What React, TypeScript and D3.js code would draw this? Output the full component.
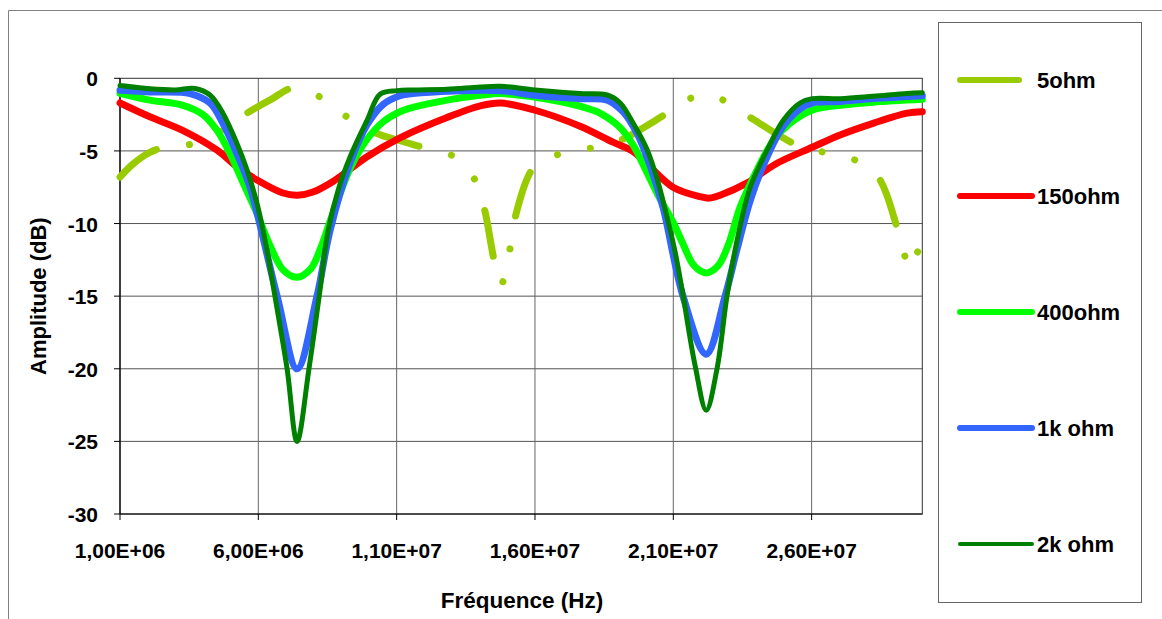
import React from 'react';
import * as d3 from 'd3';

// ---- axis data ----
const X_TICKS = [1e6, 6e6, 11e6, 16e6, 21e6, 26e6];
const X_TICK_LABELS = ['1,00E+06', '6,00E+06', '1,10E+07', '1,60E+07', '2,10E+07', '2,60E+07'];
const Y_TICKS = [0, -5, -10, -15, -20, -25, -30];

// ---- series data (frequency in MHz, amplitude in dB) ----
const F_5OHM = [1.0, 1.47, 2.08, 2.63, 3.64, 4.69, 5.59, 6.42, 7.3, 8.34, 9.24, 10.29, 11.12, 12.03, 13.08, 13.8, 14.16, 14.52, 14.77, 14.88, 15.1, 15.28, 15.97, 16.91, 18.03, 19.04, 20.78, 21.72, 22.2, 22.8, 23.7, 25.48, 26.45, 27.54, 28.4, 29.09, 29.38, 29.6, 29.85, 30.0];
const DB_5OHM = [-6.8, -5.9, -5.1, -4.75, -4.5, -3.6, -2.4, -1.5, -0.65, -1.4, -2.7, -3.8, -4.3, -4.8, -5.4, -6.9, -8.9, -12.5, -14.2, -13.8, -11.7, -9.6, -6.1, -5.2, -4.8, -4.3, -2.4, -1.3, -1.15, -1.5, -2.6, -4.6, -5.1, -5.6, -6.8, -10.3, -12.3, -13.15, -11.9, -11.7];

const F_150OHM = [1.0, 2.08, 3.28, 4.51, 5.23, 5.95, 6.89, 7.42, 7.95, 8.7, 9.93, 11.12, 12.82, 14.02, 14.74, 16.0, 17.63, 18.82, 19.51, 20.05, 20.99, 21.97, 22.3, 22.69, 23.67, 24.7, 26.02, 27.03, 28.22, 29.45, 30.0];
const DB_150OHM = [-1.7, -2.65, -3.6, -4.95, -6.1, -7.0, -7.9, -8.05, -7.85, -7.1, -5.4, -4.1, -2.7, -1.9, -1.7, -2.2, -3.3, -4.4, -5.0, -5.9, -7.5, -8.15, -8.25, -8.05, -7.2, -5.9, -4.75, -3.9, -3.1, -2.4, -2.3];

const F_400OHM = [1.0, 2.08, 3.28, 4.0, 4.51, 4.98, 5.45, 5.95, 6.42, 6.9, 7.4, 7.9, 8.23, 8.6, 9.0, 9.32, 9.93, 10.51, 11.12, 11.59, 12.82, 14.02, 14.74, 16.0, 17.16, 18.1, 18.35, 19.08, 19.55, 20.05, 20.52, 20.99, 21.35, 21.75, 22.19, 22.62, 23.0, 23.41, 24.03, 24.61, 25.22, 26.02, 27.03, 28.22, 30.0];
const DB_400OHM = [-1.03, -1.5, -1.86, -2.5, -3.6, -5.2, -7.2, -9.3, -11.5, -13.2, -13.7, -13.1, -11.8, -9.8, -7.7, -6.2, -4.2, -3.0, -2.3, -2.0, -1.5, -1.17, -1.05, -1.3, -1.7, -2.2, -2.4, -3.4, -4.6, -6.5, -8.3, -9.9, -11.4, -12.9, -13.4, -12.9, -11.4, -8.9, -6.3, -4.3, -3.1, -2.2, -1.86, -1.65, -1.45];

const F_1KOHM = [1.0, 2.08, 3.53, 4.25, 4.72, 5.23, 5.7, 6.68, 7.4, 8.12, 8.59, 9.32, 9.93, 10.51, 11.12, 11.59, 14.74, 16.0, 17.63, 18.61, 19.18, 19.69, 20.16, 20.63, 21.35, 22.19, 22.87, 23.3, 23.8, 24.39, 24.97, 25.58, 26.02, 27.03, 28.22, 30.0];
const DB_1KOHM = [-0.83, -0.94, -1.05, -1.7, -3.1, -5.2, -7.5, -15, -20, -15, -10.5, -5.8, -3.2, -1.8, -1.2, -1.05, -0.85, -1.17, -1.4, -1.5, -2.3, -3.8, -6.0, -8.9, -15, -19.0, -15, -11.8, -8.3, -5.4, -3.3, -2.1, -1.7, -1.6, -1.4, -1.2];

const F_2KOHM = [1.0, 2.08, 3.0, 3.71, 4.25, 4.72, 5.23, 5.59, 5.95, 6.31, 6.6, 7.04, 7.4, 7.83, 8.2, 8.52, 8.9, 9.32, 9.93, 10.4, 11.01, 11.59, 12.82, 14.02, 14.74, 16.0, 17.63, 18.61, 19.08, 19.55, 20.05, 20.41, 20.78, 21.07, 21.33, 21.79, 22.19, 22.58, 22.94, 23.3, 23.78, 24.39, 24.97, 25.58, 26.02, 27.03, 28.22, 29.45, 30.0];
const DB_2KOHM = [-0.5, -0.72, -0.8, -0.7, -1.15, -2.4, -4.5, -6.3, -8.6, -11.8, -15, -20, -25, -20, -15, -10.5, -7.6, -5.4, -2.9, -1.1, -0.85, -0.8, -0.75, -0.6, -0.55, -0.8, -1.05, -1.15, -1.7, -3.1, -4.9, -6.9, -9.6, -12.0, -14.7, -19.8, -22.85, -20, -15, -11.2, -7.5, -4.95, -2.9, -1.7, -1.4, -1.4, -1.24, -1.05, -1.0];

const SERIES_NAMES = ['5ohm', '150ohm', '400ohm', '1k ohm', '2k ohm'];
const SERIES_COLORS = ['#99CC00', '#FF0000', '#00FF00', '#3366FF', '#008000'];

const FONT = '"Liberation Sans", Arial, Helvetica, sans-serif';

export default function App() {
  const W = 1162;
  const H = 619;
  const plot = { left: 120, right: 922.3, top: 78.3, bottom: 514 };

  const x = d3.scaleLinear().domain([1e6, 3e7]).range([plot.left, plot.right]);
  const y = d3.scaleLinear().domain([0, -30]).range([plot.top, plot.bottom]);

  const series = [
    { name: SERIES_NAMES[0], color: SERIES_COLORS[0], f: F_5OHM, v: DB_5OHM, width: 7, dash: '46 33.5 0.01 33.5 0.01 33.5' },
    { name: SERIES_NAMES[1], color: SERIES_COLORS[1], f: F_150OHM, v: DB_150OHM, width: 7, dash: null },
    { name: SERIES_NAMES[2], color: SERIES_COLORS[2], f: F_400OHM, v: DB_400OHM, width: 7, dash: null },
    { name: SERIES_NAMES[3], color: SERIES_COLORS[3], f: F_1KOHM, v: DB_1KOHM, width: 7, dash: null },
    { name: SERIES_NAMES[4], color: SERIES_COLORS[4], f: F_2KOHM, v: DB_2KOHM, width: 5, dash: null },
  ];

  const line = d3
    .line<[number, number]>()
    .x((d) => x(d[0] * 1e6))
    .y((d) => y(d[1]))
    .curve(d3.curveCatmullRom.alpha(0.5));

  const legendY = (i: number) => 80 + i * 116;

  return (
    <svg
      width={W}
      height={H}
      style={{ position: 'absolute', left: 0, top: 0, background: '#fff' }}
      fontFamily={FONT}
      fontWeight="bold"
    >
      <rect x={0} y={0} width={W} height={H} fill="#fff" />
      {/* outer chart frame */}
      <path d={`M8.5,${H + 2} V10.5 H${W + 2}`} fill="none" stroke="#808080" strokeWidth={1} />

      {/* gridlines */}
      {Y_TICKS.slice(1, -1).map((t) => (
        <line key={'gy' + t} x1={plot.left} x2={plot.right} y1={y(t)} y2={y(t)} stroke="#555" strokeWidth={1} />
      ))}
      {X_TICKS.slice(1).map((t) => (
        <line key={'gx' + t} x1={x(t)} x2={x(t)} y1={plot.top} y2={plot.bottom} stroke="#666" strokeWidth={1} />
      ))}

      {/* plot border */}
      <rect
        x={plot.left}
        y={plot.top}
        width={plot.right - plot.left}
        height={plot.bottom - plot.top}
        fill="none"
        stroke="#333"
        strokeWidth={1}
      />
      <line x1={plot.left} x2={plot.left} y1={plot.top} y2={plot.bottom} stroke="#000" strokeWidth={1.2} />
      <line x1={plot.left} x2={plot.right} y1={plot.bottom} y2={plot.bottom} stroke="#000" strokeWidth={1.2} />

      {/* y ticks + labels */}
      {Y_TICKS.map((t) => (
        <g key={'yt' + t}>
          <line x1={plot.left - 6} x2={plot.left} y1={y(t)} y2={y(t)} stroke="#000" strokeWidth={1} />
          <text x={98} y={y(t) + 8} textAnchor="end" fontSize={21} fill="#000">
            {t}
          </text>
        </g>
      ))}

      {/* x ticks + labels */}
      {X_TICKS.map((t, i) => (
        <g key={'xt' + t}>
          <line x1={x(t)} x2={x(t)} y1={plot.bottom} y2={plot.bottom + 6} stroke="#000" strokeWidth={1} />
          <text x={x(t)} y={558} textAnchor="middle" fontSize={21} fill="#000">
            {X_TICK_LABELS[i]}
          </text>
        </g>
      ))}

      {/* axis titles */}
      <text x={522} y={608} textAnchor="middle" fontSize={22.5} fill="#000">
        Fréquence (Hz)
      </text>
      <text
        transform={`translate(46, ${(plot.top + plot.bottom) / 2}) rotate(-90)`}
        textAnchor="middle"
        fontSize={22}
        fill="#000"
      >
        Amplitude (dB)
      </text>

      {/* series */}
      {series.map((s) => (
        <path
          key={s.name}
          d={line(s.f.map((f, i) => [f, s.v[i]] as [number, number])) || ''}
          fill="none"
          stroke={s.color}
          strokeWidth={s.width}
          strokeLinecap="round"
          strokeLinejoin="round"
          strokeDasharray={s.dash || undefined}
        />
      ))}

      {/* legend */}
      <rect x={938.5} y={22.5} width={203} height={580} fill="#fff" stroke="#666" strokeWidth={1} />
      {series.map((s, i) => (
        <g key={'lg' + s.name}>
          <line
            x1={960}
            x2={i === 0 ? 1019 : 1032}
            y1={legendY(i)}
            y2={legendY(i)}
            stroke={s.color}
            strokeWidth={i === 4 ? 4 : 6}
            strokeLinecap="round"
          />
          <text x={1037} y={legendY(i) + 7.5} fontSize={22} fill="#000">
            {s.name}
          </text>
        </g>
      ))}
    </svg>
  );
}
